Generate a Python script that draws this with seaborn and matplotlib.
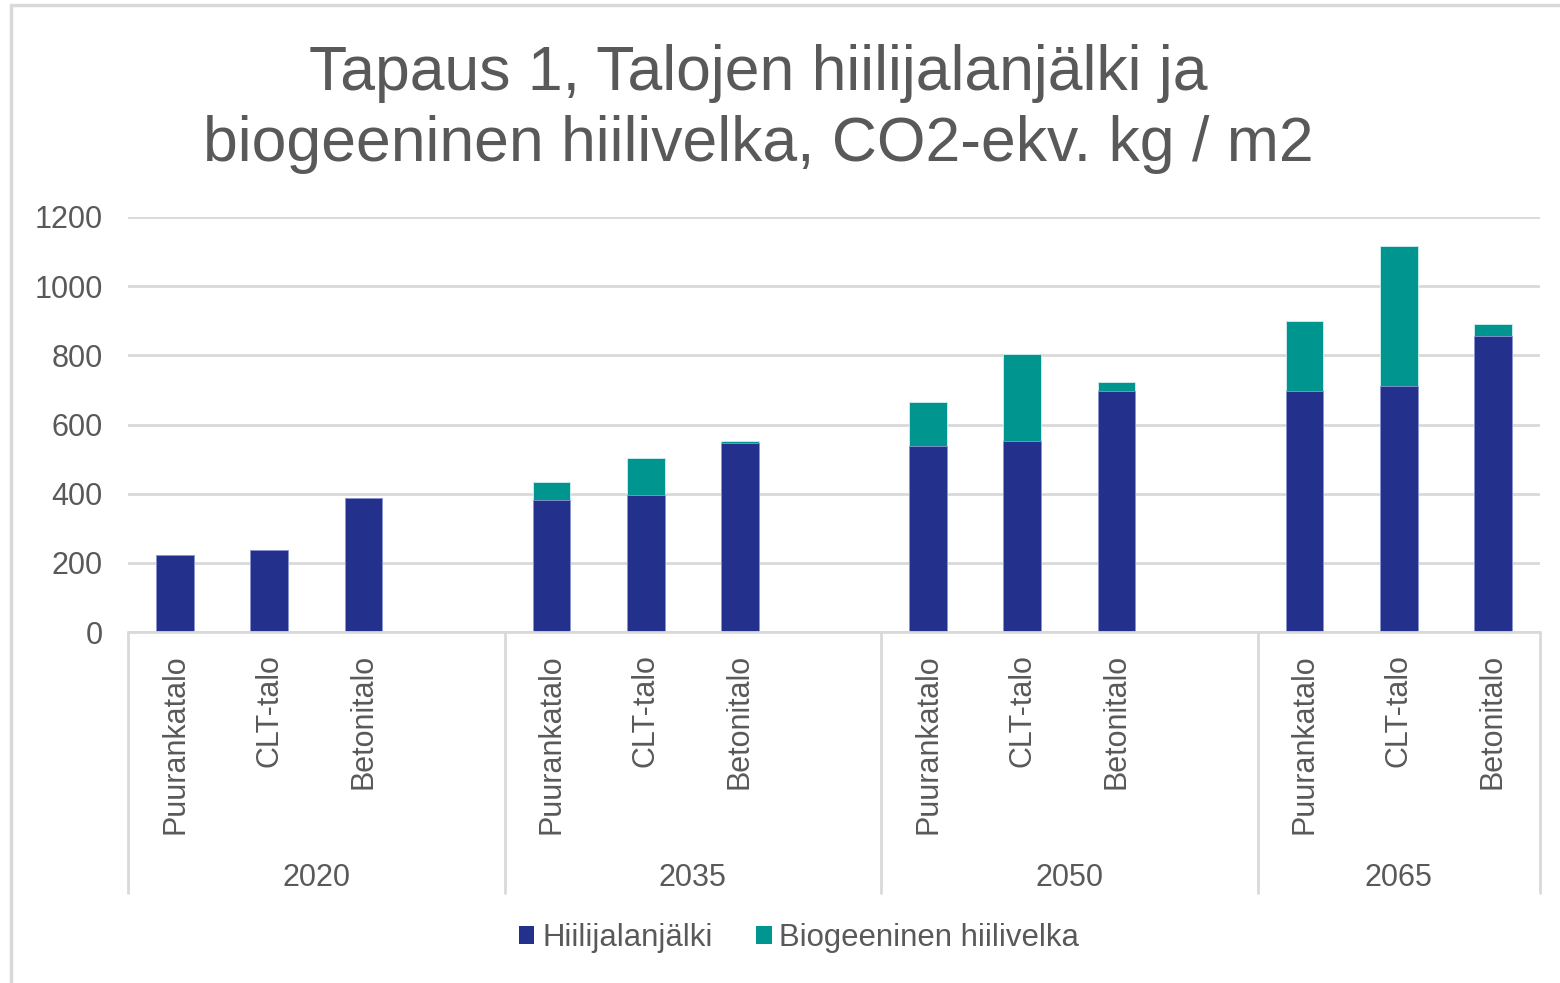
import numpy as np
import pandas as pd
import seaborn as sns
import matplotlib.pyplot as plt
from matplotlib.patches import Patch
from matplotlib.lines import Line2D

# Data (CO2-ekv. kg / m2)
years = ["2020", "2035", "2050", "2065"]
houses = ["Puurankatalo", "CLT-talo", "Betonitalo"]
hiilijalanjalki = [
    [223, 237, 387],
    [382, 396, 546],
    [539, 553, 698],
    [698, 712, 856],
]
biogeeninen = [
    [0, 0, 0],
    [53, 106, 5],
    [125, 250, 24],
    [201, 404, 34],
]
series_names = ["Hiilijalanjälki", "Biogeeninen hiilivelka"]
colors = ["#23308C", "#00968F"]
grey_text = "#595959"
grid_col = "#D9D9D9"

# Long table, one row per bar
rows = []
for yi, year in enumerate(years):
    for hi, house in enumerate(houses):
        rows.append({
            "key": year + "|" + house,
            "year": year,
            "house": house,
            "hiili": hiilijalanjalki[yi][hi],
            "total": hiilijalanjalki[yi][hi] + biogeeninen[yi][hi],
        })
df = pd.DataFrame(rows)

# Category order with an empty slot after each year except the last
order = []
for yi, year in enumerate(years):
    order += [year + "|" + h for h in houses]
    if yi < len(years) - 1:
        order.append(year + "|")

sns.set_theme(style="white")
plt.rcParams["font.family"] = ["Liberation Sans", "DejaVu Sans"]

fig = plt.figure(figsize=(15.6, 9.83), dpi=100)
ax = fig.add_axes([128 / 1560, 1 - 632 / 983, (1540 - 128) / 1560, 415 / 983])

# stacked bars: totals underneath, footprint drawn on top
sns.barplot(data=df, x="key", y="total", order=order, color=colors[1],
            saturation=1, width=0.4, ax=ax, edgecolor="#D0F0EE", linewidth=0.6)
sns.barplot(data=df, x="key", y="hiili", order=order, color=colors[0],
            saturation=1, width=0.4, ax=ax, edgecolor="#8E96D0", linewidth=0.6)

ax.set_ylim(0, 1200)
ax.set_xlim(-0.5, len(order) - 0.5)
ax.set_yticks(np.arange(0, 1201, 200))
ax.yaxis.grid(True, color=grid_col, linewidth=2)
ax.set_axisbelow(True)
for s in ax.spines.values():
    s.set_visible(False)
ax.set_xlabel("")
ax.set_ylabel("")

ax.set_xticks(range(len(order)))
ax.set_xticklabels([k.split("|")[1] for k in order], rotation=90, va="top", ha="center")
ax.tick_params(axis="x", length=0, pad=16, labelsize=22, labelcolor=grey_text)
ax.tick_params(axis="y", length=0, pad=18, labelsize=22, labelcolor=grey_text)

# category axis line and group separators
trans = ax.get_xaxis_transform()
ax.plot([-0.5, len(order) - 0.5], [0, 0], transform=trans, color=grid_col,
        lw=2, clip_on=False)
bounds = [-0.5]
pos = -0.5
for yi in range(len(years)):
    pos += 4 if yi < len(years) - 1 else 3
    bounds.append(pos)
for b in bounds:
    ax.plot([b, b], [0, -0.629], transform=trans, color=grid_col, lw=2,
            clip_on=False)
for yi, year in enumerate(years):
    ax.text(bounds[yi] + (bounds[yi + 1] - bounds[yi]) / 2, -0.592, year,
            transform=trans, ha="center", va="center", fontsize=22,
            color=grey_text)

fig.text(758 / 1560, 1 - 109 / 983,
         "Tapaus 1, Talojen hiilijalanjälki ja\nbiogeeninen hiilivelka, CO2-ekv. kg / m2",
         ha="center", va="center", fontsize=45, color=grey_text, linespacing=1.25)

handles = [Patch(facecolor=c, edgecolor="none") for c in colors]
fig.legend(handles, series_names, loc="center", bbox_to_anchor=(799 / 1560, 45 / 983),
           ncol=2, frameon=False, fontsize=22.4, labelcolor=grey_text,
           handlelength=0.5, handleheight=0.5, handletextpad=0.25,
           columnspacing=1.4)

# outer chart frame (top and left edges visible)
fig.add_artist(Line2D([10.5 / 1560, 1], [1 - 5 / 983, 1 - 5 / 983],
                      transform=fig.transFigure, color=grid_col, lw=2.5))
fig.add_artist(Line2D([10.5 / 1560, 10.5 / 1560], [0, 1 - 5 / 983],
                      transform=fig.transFigure, color=grid_col, lw=2.5))

fig.savefig("out.png", dpi=100)
